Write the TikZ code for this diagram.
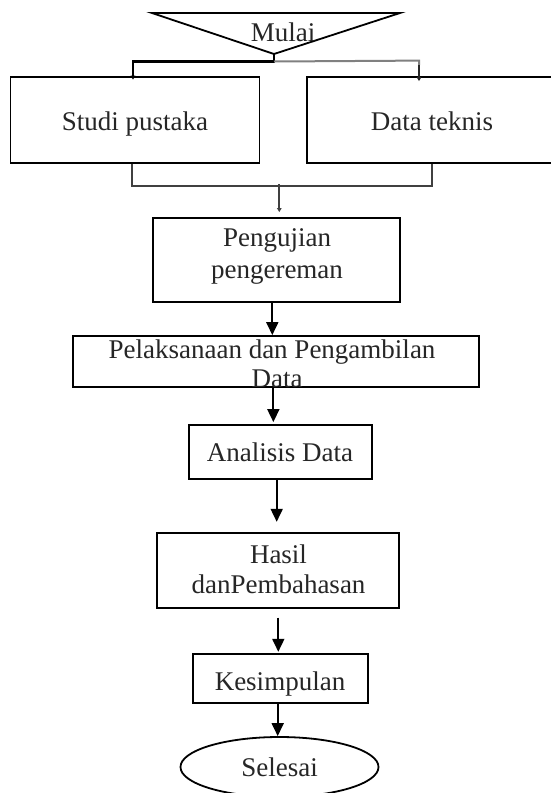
\documentclass[tikz,border=0pt]{standalone}
\usepackage{fontspec}
\setmainfont{Liberation Serif}
\usetikzlibrary{arrows.meta,shapes.geometric,calc}
\begin{document}
\begin{tikzpicture}[x=1pt,y=-1pt,
  box/.style={draw=black,line width=1.8pt,inner sep=0pt},
  oval/.style={draw=black,line width=1.8pt,ellipse,inner sep=0pt},
  txt/.style={anchor=base,inner sep=0pt,font=\fontsize{27}{30}\selectfont,text=black!85},
  arr/.style={draw=black,line width=1.8pt,-{Triangle[length=13pt,width=12pt]}},
  tinytip/.style={-{Triangle[length=4pt,width=4.5pt]}}
]
\useasboundingbox (0,0) rectangle (550,793);
% start triangle
\coordinate (apex) at (274,54);
\draw[line width=1.8pt,line join=miter] (152,13) -- (400,13) -- (apex) -- cycle;
\node[txt] (mulai) at (283,41) {Mulai};
% boxes
\node[box,minimum width=249pt,minimum height=86pt] (studi) at (135,120) {};
\node[box,minimum width=250pt,minimum height=86pt] (dtek) at (432,120) {};
\node[box,minimum width=247.3pt,minimum height=83.7pt] (peng) at (276.3,259.85) {};
\node[box,minimum width=406.3pt,minimum height=50.7pt] (pelak) at (275.85,361.35) {};
\node[box,minimum width=182.4pt,minimum height=54.3pt] (anal) at (280.5,452.15) {};
\node[box,minimum width=242pt,minimum height=75.3pt] (hasil) at (278.3,570.35) {};
\node[box,minimum width=175.6pt,minimum height=49pt] (kes) at (280.5,678.8) {};
\node[oval,minimum width=198pt,minimum height=60pt] (sel) at (279.5,767) {};
% texts
\node[txt] (studiT) at (135,130) {Studi pustaka};
\node[txt] (dtekT) at (432,130) {Data teknis};
\node[txt] (pengT1) at (277,246.7) {Pengujian};
\node[txt] (pengT2) at (277,278) {pengereman};
\node[txt] (pelakT1) at (272,358) {Pelaksanaan dan Pengambilan};
\node[txt] (pelakT2) at (277,387) {Data};
\node[txt] (analT) at (280,461.7) {Analisis Data};
\node[txt] (hasilT1) at (278.5,563) {Hasil};
\node[txt] (hasilT2) at (278.5,593) {danPembahasan};
\node[txt] (kesT) at (280,690) {Kesimpulan};
\node[txt] (selT) at (279.7,776.7) {Selesai};
% top split connectors
\draw[line width=2.6pt,black,tinytip] (apex) |- ($(studi.north)+(-2,-14.5)$) -- ($(studi.north)+(-2,3.5)$);
\draw[line width=2pt,black!50] ($(apex)+(0,7.5)$) -- ($(dtek.north)+(-13,-15.5)$) -- ($(dtek.north)+(-13,-11)$);
\draw[line width=2.4pt,black!85,tinytip] ($(dtek.north)+(-13,-11)$) -- ($(dtek.north)+(-13,5)$);
% join connectors
\draw[line width=2pt,black!75] ($(studi.south)+(-3.3,0)$) -- ++(0,22) -| ($(dtek.south)+(-0.3,0)$);
\draw[line width=2pt,black!75,tinytip] ($(peng.north)+(3,-33)$) -- ($(peng.north)+(3,-5)$);
% main arrows
\draw[arr] ($(peng.south)+(-4,0)$) -- ($(peng.south |- pelak.north)+(-4,0)$);
\draw[arr,shorten >=2pt] ($(pelak.south)+(-2.5,0)$) -- ($(pelak.south |- anal.north)+(-2.5,0)$);
\draw[arr,shorten >=10pt] ($(anal.south)+(-3.8,0)$) -- ($(anal.south |- hasil.north)+(-3.8,0)$);
\draw[arr,shorten <=8.7pt,shorten >=1.6pt] (hasil.south) -- (hasil.south |- kes.north);
\draw[arr] ($(kes.south)+(-2.8,0)$) -- ($(kes.south |- sel.north)+(-2.8,0)$);
\end{tikzpicture}
\end{document}
